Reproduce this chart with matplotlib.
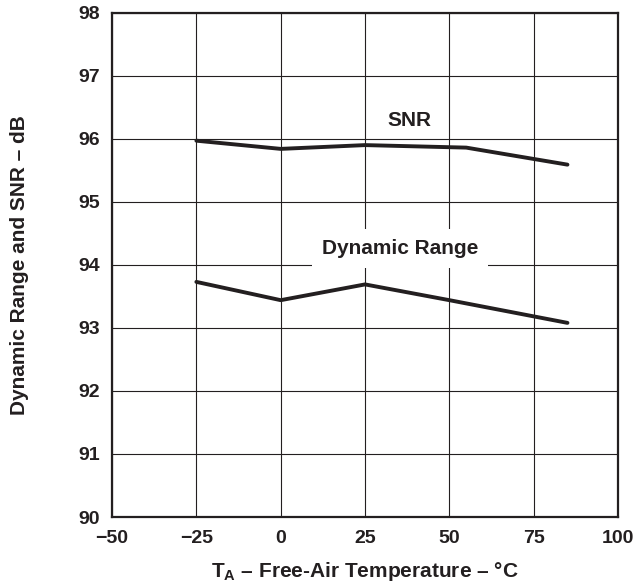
import numpy as np
import matplotlib.pyplot as plt

plt.rcParams['font.family'] = ['Liberation Sans', 'DejaVu Sans']
plt.rcParams['font.weight'] = 'bold'
plt.rcParams['mathtext.fontset'] = 'custom'
plt.rcParams['mathtext.rm'] = 'Liberation Sans:bold'
plt.rcParams['mathtext.bf'] = 'Liberation Sans:bold'

temp = [-25, 0, 25, 55, 85]
snr = [95.97, 95.84, 95.90, 95.86, 95.59]
dr_temp = [-25, 0, 25, 50, 85]
dyn_range = [93.73, 93.44, 93.69, 93.44, 93.08]

xticks = [-50, -25, 0, 25, 50, 75, 100]
xtick_labels = ['\u221250', '\u221225', '0', '25', '50', '75', '100']
yticks = [90, 91, 92, 93, 94, 95, 96, 97, 98]

fig = plt.figure(figsize=(6.42, 5.86), dpi=100)
ax = fig.add_axes([0.1745, 0.1177, 0.7882, 0.8606])

ax.plot(temp, snr, color='#231f20', linewidth=2.8, solid_capstyle='round', zorder=3)
ax.plot(dr_temp, dyn_range, color='#231f20', linewidth=2.8, solid_capstyle='round', zorder=3)

ax.set_xlim(-50, 100)
ax.set_ylim(90, 98)
ax.set_xticks(xticks)
ax.set_xticklabels(xtick_labels)
ax.set_yticks(yticks)
ax.grid(True, color='#231f20', linewidth=0.8)
ax.tick_params(length=0, labelsize=14, pad=9, colors='#231f20')
for s in ax.spines.values():
    s.set_linewidth(1.6)
    s.set_color('#231f20')

ax.text(38.1, 96.20, 'SNR', ha='center', va='baseline', fontsize=15, fontweight='bold',
        color='#231f20', zorder=4)
ax.text(35.4, 94.17, 'Dynamic Range', ha='center', va='baseline', fontsize=15, fontweight='bold',
        color='#231f20', bbox=dict(facecolor='white', edgecolor='none', pad=7), zorder=4)

ax.set_xlabel('T$_\\mathbf{A}$ \u2013 Free-Air Temperature \u2013 \u00b0C', fontsize=15,
              fontweight='bold', color='#231f20')
ax.set_ylabel('Dynamic Range and SNR \u2013 dB', fontsize=15, fontweight='bold', color='#231f20')
ax.xaxis.set_label_coords(0.5, -0.085)
ax.yaxis.set_label_coords(-0.165, 0.5)

fig.savefig('out.png', dpi=100)
